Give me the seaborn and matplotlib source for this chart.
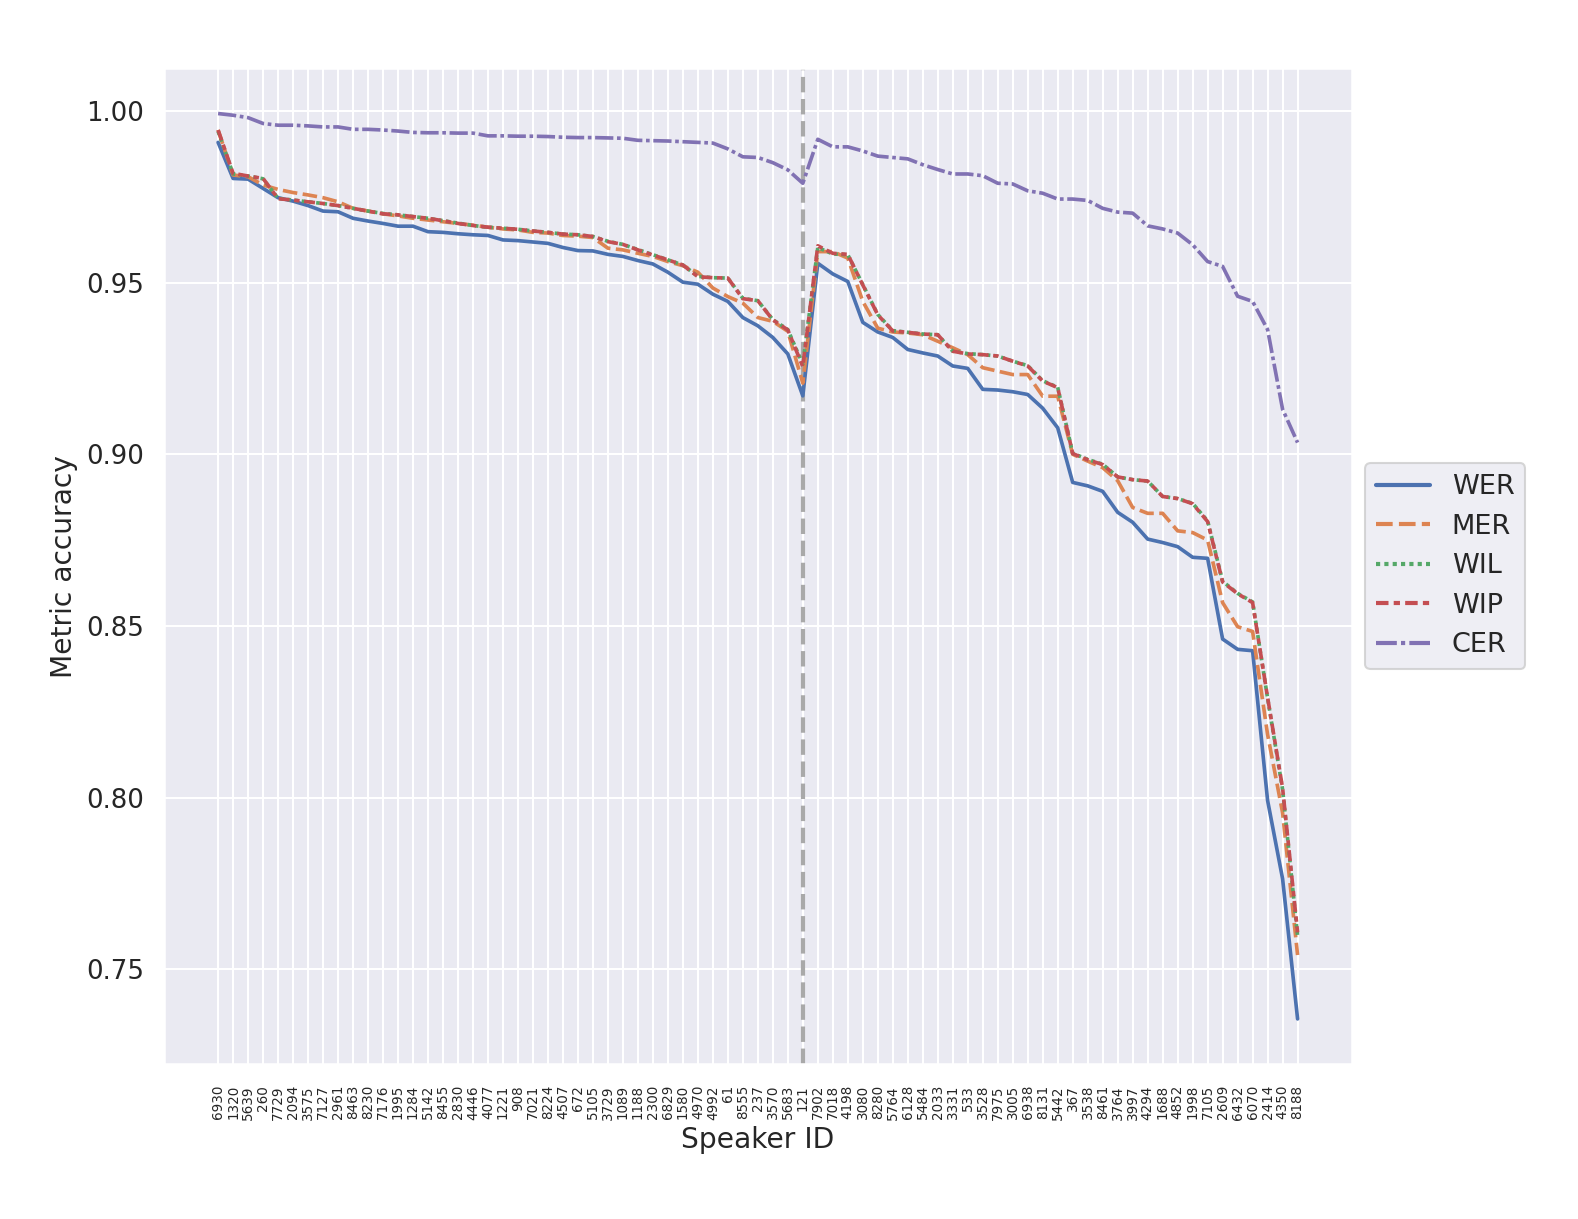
import matplotlib
matplotlib.use("Agg")
import matplotlib.pyplot as plt
import seaborn as sns
import pandas as pd

sns.set_theme(style="darkgrid")
plt.rcParams['font.family'] = ['DejaVu Sans']

speakers = ['6930', '1320', '5639', '260', '7729', '2094', '3575', '7127', '2961', '8463',
            '8230', '7176', '1995', '1284', '5142', '8455', '2830', '4446', '4077', '1221',
            '908', '7021', '8224', '4507', '672', '5105', '3729', '1089', '1188', '2300',
            '6829', '1580', '4970', '4992', '61', '8555', '237', '3570', '5683', '121',
            '7902', '7018', '4198', '3080', '8280', '5764', '6128', '5484', '2033', '3331',
            '533', '3528', '7975', '3005', '6938', '8131', '5442', '367', '3538', '8461',
            '3764', '3997', '4294', '1688', '4852', '1998', '7105', '2609', '6432', '6070',
            '2414', '4350', '8188']

wer = [0.9908, 0.9803, 0.9801, 0.9774, 0.9747, 0.9737, 0.9724, 0.9708, 0.9706, 0.9687,
       0.9679, 0.9672, 0.9664, 0.9664, 0.9648, 0.9646, 0.9642, 0.9639, 0.9637, 0.9624,
       0.9622, 0.9618, 0.9614, 0.9602, 0.9593, 0.9592, 0.9582, 0.9576, 0.9564, 0.9554,
       0.9530, 0.9501, 0.9495, 0.9466, 0.9445, 0.9398, 0.9374, 0.9340, 0.9292, 0.9170,
       0.9556, 0.9525, 0.9503, 0.9384, 0.9356, 0.9340, 0.9305, 0.9295, 0.9286, 0.9257,
       0.9250, 0.9189, 0.9187, 0.9182, 0.9174, 0.9134, 0.9077, 0.8918, 0.8908, 0.8892,
       0.8831, 0.8802, 0.8753, 0.8743, 0.8731, 0.8700, 0.8697, 0.8462, 0.8432, 0.8428,
       0.7992, 0.7764, 0.7356]

mer = [0.9944, 0.9813, 0.9808, 0.9784, 0.9771, 0.9762, 0.9755, 0.9747, 0.9735, 0.9716,
       0.9708, 0.9700, 0.9694, 0.9687, 0.9682, 0.9677, 0.9672, 0.9667, 0.9661, 0.9656,
       0.9653, 0.9646, 0.9644, 0.9637, 0.9635, 0.9631, 0.9600, 0.9595, 0.9585, 0.9576,
       0.9561, 0.9549, 0.9530, 0.9484, 0.9459, 0.9440, 0.9398, 0.9387, 0.9358, 0.9207,
       0.9590, 0.9590, 0.9571, 0.9445, 0.9367, 0.9356, 0.9353, 0.9348, 0.9329, 0.9310,
       0.9290, 0.9252, 0.9242, 0.9232, 0.9232, 0.9169, 0.9169, 0.9000, 0.8980, 0.8961,
       0.8923, 0.8845, 0.8828, 0.8828, 0.8777, 0.8772, 0.8750, 0.8568, 0.8498, 0.8484,
       0.8184, 0.7956, 0.7542]

wil = [0.9940, 0.9816, 0.9810, 0.9802, 0.9745, 0.9740, 0.9735, 0.9730, 0.9724, 0.9716,
       0.9708, 0.9701, 0.9697, 0.9692, 0.9687, 0.9680, 0.9673, 0.9666, 0.9661, 0.9658,
       0.9655, 0.9650, 0.9646, 0.9641, 0.9639, 0.9634, 0.9620, 0.9611, 0.9596, 0.9581,
       0.9566, 0.9551, 0.9518, 0.9514, 0.9513, 0.9454, 0.9447, 0.9392, 0.9363, 0.9262,
       0.9602, 0.9583, 0.9581, 0.9494, 0.9407, 0.9360, 0.9355, 0.9350, 0.9348, 0.9300,
       0.9293, 0.9290, 0.9286, 0.9271, 0.9258, 0.9214, 0.9195, 0.9003, 0.8985, 0.8971,
       0.8934, 0.8926, 0.8922, 0.8877, 0.8871, 0.8857, 0.8806, 0.8630, 0.8595, 0.8570,
       0.8290, 0.8024, 0.7598]

wip = [0.9944, 0.9818, 0.9810, 0.9803, 0.9744, 0.9740, 0.9735, 0.9730, 0.9724, 0.9716,
       0.9708, 0.9700, 0.9697, 0.9692, 0.9687, 0.9680, 0.9672, 0.9666, 0.9661, 0.9658,
       0.9655, 0.9650, 0.9646, 0.9641, 0.9639, 0.9634, 0.9619, 0.9611, 0.9595, 0.9580,
       0.9566, 0.9551, 0.9517, 0.9514, 0.9513, 0.9453, 0.9447, 0.9391, 0.9362, 0.9255,
       0.9607, 0.9585, 0.9582, 0.9493, 0.9406, 0.9359, 0.9355, 0.9350, 0.9348, 0.9300,
       0.9292, 0.9290, 0.9286, 0.9271, 0.9257, 0.9213, 0.9194, 0.9002, 0.8984, 0.8970,
       0.8934, 0.8926, 0.8922, 0.8877, 0.8871, 0.8856, 0.8804, 0.8628, 0.8594, 0.8568,
       0.8292, 0.8028, 0.7608]

cer = [0.9992, 0.9987, 0.9980, 0.9963, 0.9958, 0.9958, 0.9956, 0.9953, 0.9953, 0.9946,
       0.9946, 0.9944, 0.9941, 0.9937, 0.9936, 0.9936, 0.9935, 0.9935, 0.9927, 0.9927,
       0.9926, 0.9926, 0.9925, 0.9923, 0.9922, 0.9922, 0.9921, 0.9920, 0.9914, 0.9913,
       0.9912, 0.9910, 0.9908, 0.9906, 0.9889, 0.9866, 0.9864, 0.9849, 0.9828, 0.9789,
       0.9917, 0.9895, 0.9895, 0.9883, 0.9868, 0.9864, 0.9860, 0.9843, 0.9829, 0.9816,
       0.9816, 0.9811, 0.9789, 0.9787, 0.9767, 0.9760, 0.9743, 0.9743, 0.9739, 0.9716,
       0.9705, 0.9702, 0.9665, 0.9656, 0.9644, 0.9610, 0.9561, 0.9547, 0.9460, 0.9445,
       0.9363, 0.9131, 0.9034]

metrics = ['WER', 'MER', 'WIL', 'WIP', 'CER']
split_speaker = '121'  # last speaker of the first subset

# long-form table for seaborn
df = pd.concat([
    pd.DataFrame({'Speaker ID': speakers, 'Metric accuracy': vals, 'metric': name})
    for name, vals in zip(metrics, [wer, mer, wil, wip, cer])
], ignore_index=True)

fig = plt.figure(figsize=(1578 / 150, 1219 / 150), dpi=150)
ax = fig.add_axes([0.104, 0.127, 0.7525, 0.817])

sns.lineplot(data=df, x='Speaker ID', y='Metric accuracy', hue='metric', style='metric',
             hue_order=metrics, style_order=metrics, sort=False, linewidth=1.75, ax=ax)

ax.axvline(speakers.index(split_speaker), color='#a9a9a9', linestyle='--', linewidth=2.0, zorder=1)

ax.tick_params(axis='x', labelrotation=90, labelsize=6.5, pad=4)
ax.tick_params(axis='y', labelsize=12.5)
ax.set_xlabel('Speaker ID', fontsize=13.5, labelpad=3)
ax.set_ylabel('Metric accuracy', fontsize=13.5)

sns.move_legend(ax, 'center left', bbox_to_anchor=(1.0, 0.5), title=None, fontsize=13)
for line in ax.get_legend().get_lines():
    line.set_linewidth(2.0)

fig.savefig('out.png', dpi=150)
